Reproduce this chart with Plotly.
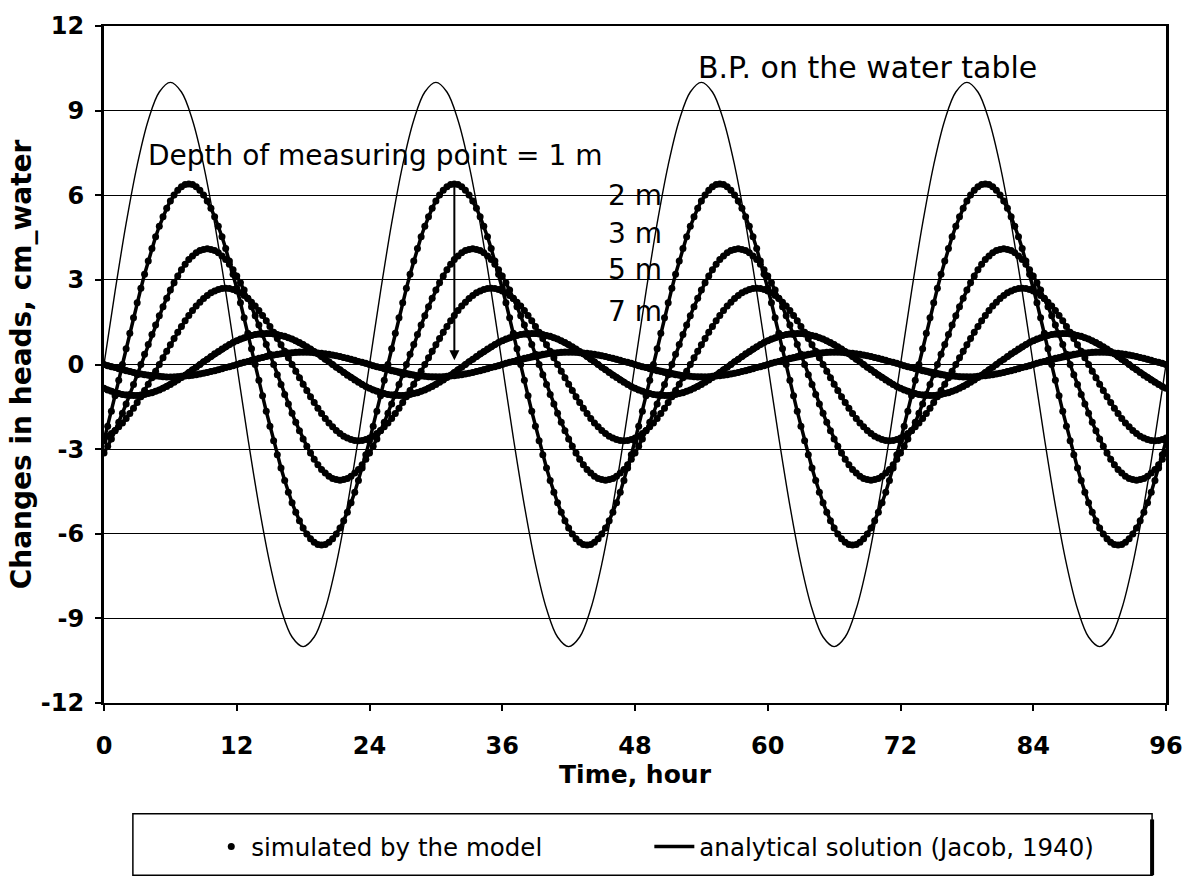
import plotly.graph_objects as go

# ---------------- data ----------------
HOUR_TICKS = [0, 12, 24, 36, 48, 60, 72, 84, 96]
HEAD_TICKS = [-12, -9, -6, -3, 0, 3, 6, 9, 12]
HEAD_TICK_LABELS = ["-12", "-9", "-6", "-3", "0", "3", "6", "9", "12"]

BP_STEP_H = 1.0          # barometric-pressure curve sampled every hour
SIM_STEP_H = 1.0 / 3.0   # model output every 20 minutes

# Barometric pressure change on the water table (cm water), hourly
BP_WATER_TABLE = [
    0, 2.59, 5, 7.07, 8.66, 9.66, 10, 9.66, 8.66, 7.07, 5, 2.59, 0, -2.59, -5, -7.07, -8.66, -9.66, -10, -9.66, -8.66, -7.07, -5, -2.59,
    0, 2.59, 5, 7.07, 8.66, 9.66, 10, 9.66, 8.66, 7.07, 5, 2.59, 0, -2.59, -5, -7.07, -8.66, -9.66, -10, -9.66, -8.66, -7.07, -5, -2.59,
    0, 2.59, 5, 7.07, 8.66, 9.66, 10, 9.66, 8.66, 7.07, 5, 2.59, 0, -2.59, -5, -7.07, -8.66, -9.66, -10, -9.66, -8.66, -7.07, -5, -2.59,
    0, 2.59, 5, 7.07, 8.66, 9.66, 10, 9.66, 8.66, 7.07, 5, 2.59, 0, -2.59, -5, -7.07, -8.66, -9.66, -10, -9.66, -8.66, -7.07, -5, -2.59,
    0,
]

# Head changes at measuring depth 1 m (every 20 min)
HEAD_1M = [
    -2.7, -2.19, -1.66, -1.11, -0.56, 0, 0.56, 1.11, 1.66, 2.19, 2.7, 3.2, 3.67, 4.11, 4.53, 4.9, 5.24, 5.54, 5.8, 6.01, 6.18, 6.3, 6.38, 6.4, 6.38, 6.3, 6.18, 6.01, 5.8, 5.54, 5.24, 4.9, 4.53, 4.11, 3.67, 3.2, 2.7, 2.19, 1.66, 1.11, 0.56, 0, -0.56, -1.11, -1.66, -2.19, -2.7, -3.2, -3.67, -4.11, -4.53, -4.9, -5.24, -5.54, -5.8, -6.01, -6.18, -6.3, -6.38, -6.4, -6.38, -6.3, -6.18, -6.01, -5.8, -5.54, -5.24, -4.9, -4.53, -4.11, -3.67, -3.2,
    -2.7, -2.19, -1.66, -1.11, -0.56, 0, 0.56, 1.11, 1.66, 2.19, 2.7, 3.2, 3.67, 4.11, 4.53, 4.9, 5.24, 5.54, 5.8, 6.01, 6.18, 6.3, 6.38, 6.4, 6.38, 6.3, 6.18, 6.01, 5.8, 5.54, 5.24, 4.9, 4.53, 4.11, 3.67, 3.2, 2.7, 2.19, 1.66, 1.11, 0.56, 0, -0.56, -1.11, -1.66, -2.19, -2.7, -3.2, -3.67, -4.11, -4.53, -4.9, -5.24, -5.54, -5.8, -6.01, -6.18, -6.3, -6.38, -6.4, -6.38, -6.3, -6.18, -6.01, -5.8, -5.54, -5.24, -4.9, -4.53, -4.11, -3.67, -3.2,
    -2.7, -2.19, -1.66, -1.11, -0.56, 0, 0.56, 1.11, 1.66, 2.19, 2.7, 3.2, 3.67, 4.11, 4.53, 4.9, 5.24, 5.54, 5.8, 6.01, 6.18, 6.3, 6.38, 6.4, 6.38, 6.3, 6.18, 6.01, 5.8, 5.54, 5.24, 4.9, 4.53, 4.11, 3.67, 3.2, 2.7, 2.19, 1.66, 1.11, 0.56, 0, -0.56, -1.11, -1.66, -2.19, -2.7, -3.2, -3.67, -4.11, -4.53, -4.9, -5.24, -5.54, -5.8, -6.01, -6.18, -6.3, -6.38, -6.4, -6.38, -6.3, -6.18, -6.01, -5.8, -5.54, -5.24, -4.9, -4.53, -4.11, -3.67, -3.2,
    -2.7, -2.19, -1.66, -1.11, -0.56, 0, 0.56, 1.11, 1.66, 2.19, 2.7, 3.2, 3.67, 4.11, 4.53, 4.9, 5.24, 5.54, 5.8, 6.01, 6.18, 6.3, 6.38, 6.4, 6.38, 6.3, 6.18, 6.01, 5.8, 5.54, 5.24, 4.9, 4.53, 4.11, 3.67, 3.2, 2.7, 2.19, 1.66, 1.11, 0.56, 0, -0.56, -1.11, -1.66, -2.19, -2.7, -3.2, -3.67, -4.11, -4.53, -4.9, -5.24, -5.54, -5.8, -6.01, -6.18, -6.3, -6.38, -6.4, -6.38, -6.3, -6.18, -6.01, -5.8, -5.54, -5.24, -4.9, -4.53, -4.11, -3.67, -3.2,
    -2.7,
]

# Head changes at measuring depth 2 m
HEAD_2M = [
    -3.14, -2.9, -2.64, -2.35, -2.05, -1.73, -1.4, -1.06, -0.71, -0.36, 0, 0.36, 0.71, 1.06, 1.4, 1.73, 2.05, 2.35, 2.64, 2.9, 3.14, 3.36, 3.55, 3.72, 3.85, 3.96, 4.04, 4.08, 4.1, 4.08, 4.04, 3.96, 3.85, 3.72, 3.55, 3.36, 3.14, 2.9, 2.64, 2.35, 2.05, 1.73, 1.4, 1.06, 0.71, 0.36, 0, -0.36, -0.71, -1.06, -1.4, -1.73, -2.05, -2.35, -2.64, -2.9, -3.14, -3.36, -3.55, -3.72, -3.85, -3.96, -4.04, -4.08, -4.1, -4.08, -4.04, -3.96, -3.85, -3.72, -3.55, -3.36,
    -3.14, -2.9, -2.64, -2.35, -2.05, -1.73, -1.4, -1.06, -0.71, -0.36, 0, 0.36, 0.71, 1.06, 1.4, 1.73, 2.05, 2.35, 2.64, 2.9, 3.14, 3.36, 3.55, 3.72, 3.85, 3.96, 4.04, 4.08, 4.1, 4.08, 4.04, 3.96, 3.85, 3.72, 3.55, 3.36, 3.14, 2.9, 2.64, 2.35, 2.05, 1.73, 1.4, 1.06, 0.71, 0.36, 0, -0.36, -0.71, -1.06, -1.4, -1.73, -2.05, -2.35, -2.64, -2.9, -3.14, -3.36, -3.55, -3.72, -3.85, -3.96, -4.04, -4.08, -4.1, -4.08, -4.04, -3.96, -3.85, -3.72, -3.55, -3.36,
    -3.14, -2.9, -2.64, -2.35, -2.05, -1.73, -1.4, -1.06, -0.71, -0.36, 0, 0.36, 0.71, 1.06, 1.4, 1.73, 2.05, 2.35, 2.64, 2.9, 3.14, 3.36, 3.55, 3.72, 3.85, 3.96, 4.04, 4.08, 4.1, 4.08, 4.04, 3.96, 3.85, 3.72, 3.55, 3.36, 3.14, 2.9, 2.64, 2.35, 2.05, 1.73, 1.4, 1.06, 0.71, 0.36, 0, -0.36, -0.71, -1.06, -1.4, -1.73, -2.05, -2.35, -2.64, -2.9, -3.14, -3.36, -3.55, -3.72, -3.85, -3.96, -4.04, -4.08, -4.1, -4.08, -4.04, -3.96, -3.85, -3.72, -3.55, -3.36,
    -3.14, -2.9, -2.64, -2.35, -2.05, -1.73, -1.4, -1.06, -0.71, -0.36, 0, 0.36, 0.71, 1.06, 1.4, 1.73, 2.05, 2.35, 2.64, 2.9, 3.14, 3.36, 3.55, 3.72, 3.85, 3.96, 4.04, 4.08, 4.1, 4.08, 4.04, 3.96, 3.85, 3.72, 3.55, 3.36, 3.14, 2.9, 2.64, 2.35, 2.05, 1.73, 1.4, 1.06, 0.71, 0.36, 0, -0.36, -0.71, -1.06, -1.4, -1.73, -2.05, -2.35, -2.64, -2.9, -3.14, -3.36, -3.55, -3.72, -3.85, -3.96, -4.04, -4.08, -4.1, -4.08, -4.04, -3.96, -3.85, -3.72, -3.55, -3.36,
    -3.14,
]

# Head changes at measuring depth 3 m
HEAD_3M = [
    -2.61, -2.54, -2.45, -2.34, -2.21, -2.07, -1.91, -1.74, -1.55, -1.35, -1.14, -0.92, -0.7, -0.47, -0.24, 0, 0.24, 0.47, 0.7, 0.92, 1.14, 1.35, 1.55, 1.74, 1.91, 2.07, 2.21, 2.34, 2.45, 2.54, 2.61, 2.66, 2.69, 2.7, 2.69, 2.66, 2.61, 2.54, 2.45, 2.34, 2.21, 2.07, 1.91, 1.74, 1.55, 1.35, 1.14, 0.92, 0.7, 0.47, 0.24, 0, -0.24, -0.47, -0.7, -0.92, -1.14, -1.35, -1.55, -1.74, -1.91, -2.07, -2.21, -2.34, -2.45, -2.54, -2.61, -2.66, -2.69, -2.7, -2.69, -2.66,
    -2.61, -2.54, -2.45, -2.34, -2.21, -2.07, -1.91, -1.74, -1.55, -1.35, -1.14, -0.92, -0.7, -0.47, -0.24, 0, 0.24, 0.47, 0.7, 0.92, 1.14, 1.35, 1.55, 1.74, 1.91, 2.07, 2.21, 2.34, 2.45, 2.54, 2.61, 2.66, 2.69, 2.7, 2.69, 2.66, 2.61, 2.54, 2.45, 2.34, 2.21, 2.07, 1.91, 1.74, 1.55, 1.35, 1.14, 0.92, 0.7, 0.47, 0.24, 0, -0.24, -0.47, -0.7, -0.92, -1.14, -1.35, -1.55, -1.74, -1.91, -2.07, -2.21, -2.34, -2.45, -2.54, -2.61, -2.66, -2.69, -2.7, -2.69, -2.66,
    -2.61, -2.54, -2.45, -2.34, -2.21, -2.07, -1.91, -1.74, -1.55, -1.35, -1.14, -0.92, -0.7, -0.47, -0.24, 0, 0.24, 0.47, 0.7, 0.92, 1.14, 1.35, 1.55, 1.74, 1.91, 2.07, 2.21, 2.34, 2.45, 2.54, 2.61, 2.66, 2.69, 2.7, 2.69, 2.66, 2.61, 2.54, 2.45, 2.34, 2.21, 2.07, 1.91, 1.74, 1.55, 1.35, 1.14, 0.92, 0.7, 0.47, 0.24, 0, -0.24, -0.47, -0.7, -0.92, -1.14, -1.35, -1.55, -1.74, -1.91, -2.07, -2.21, -2.34, -2.45, -2.54, -2.61, -2.66, -2.69, -2.7, -2.69, -2.66,
    -2.61, -2.54, -2.45, -2.34, -2.21, -2.07, -1.91, -1.74, -1.55, -1.35, -1.14, -0.92, -0.7, -0.47, -0.24, 0, 0.24, 0.47, 0.7, 0.92, 1.14, 1.35, 1.55, 1.74, 1.91, 2.07, 2.21, 2.34, 2.45, 2.54, 2.61, 2.66, 2.69, 2.7, 2.69, 2.66, 2.61, 2.54, 2.45, 2.34, 2.21, 2.07, 1.91, 1.74, 1.55, 1.35, 1.14, 0.92, 0.7, 0.47, 0.24, 0, -0.24, -0.47, -0.7, -0.92, -1.14, -1.35, -1.55, -1.74, -1.91, -2.07, -2.21, -2.34, -2.45, -2.54, -2.61, -2.66, -2.69, -2.7, -2.69, -2.66,
    -2.61,
]

# Head changes at measuring depth 5 m
HEAD_5M = [
    -0.84, -0.9, -0.95, -1.0, -1.03, -1.06, -1.08, -1.1, -1.1, -1.1, -1.08, -1.06, -1.03, -1.0, -0.95, -0.9, -0.84, -0.78, -0.71, -0.63, -0.55, -0.46, -0.38, -0.28, -0.19, -0.1, 0, 0.1, 0.19, 0.28, 0.38, 0.46, 0.55, 0.63, 0.71, 0.78, 0.84, 0.9, 0.95, 1.0, 1.03, 1.06, 1.08, 1.1, 1.1, 1.1, 1.08, 1.06, 1.03, 1.0, 0.95, 0.9, 0.84, 0.78, 0.71, 0.63, 0.55, 0.46, 0.38, 0.28, 0.19, 0.1, 0, -0.1, -0.19, -0.28, -0.38, -0.46, -0.55, -0.63, -0.71, -0.78,
    -0.84, -0.9, -0.95, -1.0, -1.03, -1.06, -1.08, -1.1, -1.1, -1.1, -1.08, -1.06, -1.03, -1.0, -0.95, -0.9, -0.84, -0.78, -0.71, -0.63, -0.55, -0.46, -0.38, -0.28, -0.19, -0.1, 0, 0.1, 0.19, 0.28, 0.38, 0.46, 0.55, 0.63, 0.71, 0.78, 0.84, 0.9, 0.95, 1.0, 1.03, 1.06, 1.08, 1.1, 1.1, 1.1, 1.08, 1.06, 1.03, 1.0, 0.95, 0.9, 0.84, 0.78, 0.71, 0.63, 0.55, 0.46, 0.38, 0.28, 0.19, 0.1, 0, -0.1, -0.19, -0.28, -0.38, -0.46, -0.55, -0.63, -0.71, -0.78,
    -0.84, -0.9, -0.95, -1.0, -1.03, -1.06, -1.08, -1.1, -1.1, -1.1, -1.08, -1.06, -1.03, -1.0, -0.95, -0.9, -0.84, -0.78, -0.71, -0.63, -0.55, -0.46, -0.38, -0.28, -0.19, -0.1, 0, 0.1, 0.19, 0.28, 0.38, 0.46, 0.55, 0.63, 0.71, 0.78, 0.84, 0.9, 0.95, 1.0, 1.03, 1.06, 1.08, 1.1, 1.1, 1.1, 1.08, 1.06, 1.03, 1.0, 0.95, 0.9, 0.84, 0.78, 0.71, 0.63, 0.55, 0.46, 0.38, 0.28, 0.19, 0.1, 0, -0.1, -0.19, -0.28, -0.38, -0.46, -0.55, -0.63, -0.71, -0.78,
    -0.84, -0.9, -0.95, -1.0, -1.03, -1.06, -1.08, -1.1, -1.1, -1.1, -1.08, -1.06, -1.03, -1.0, -0.95, -0.9, -0.84, -0.78, -0.71, -0.63, -0.55, -0.46, -0.38, -0.28, -0.19, -0.1, 0, 0.1, 0.19, 0.28, 0.38, 0.46, 0.55, 0.63, 0.71, 0.78, 0.84, 0.9, 0.95, 1.0, 1.03, 1.06, 1.08, 1.1, 1.1, 1.1, 1.08, 1.06, 1.03, 1.0, 0.95, 0.9, 0.84, 0.78, 0.71, 0.63, 0.55, 0.46, 0.38, 0.28, 0.19, 0.1, 0, -0.1, -0.19, -0.28, -0.38, -0.46, -0.55, -0.63, -0.71, -0.78,
    -0.84,
]

# Head changes at measuring depth 7 m
HEAD_7M = [
    0, -0.04, -0.08, -0.11, -0.15, -0.19, -0.22, -0.25, -0.28, -0.31, -0.34, -0.36, -0.38, -0.4, -0.41, -0.42, -0.43, -0.44, -0.44, -0.44, -0.43, -0.42, -0.41, -0.4, -0.38, -0.36, -0.34, -0.31, -0.28, -0.25, -0.22, -0.19, -0.15, -0.11, -0.08, -0.04, 0, 0.04, 0.08, 0.11, 0.15, 0.19, 0.22, 0.25, 0.28, 0.31, 0.34, 0.36, 0.38, 0.4, 0.41, 0.42, 0.43, 0.44, 0.44, 0.44, 0.43, 0.42, 0.41, 0.4, 0.38, 0.36, 0.34, 0.31, 0.28, 0.25, 0.22, 0.19, 0.15, 0.11, 0.08, 0.04,
    0, -0.04, -0.08, -0.11, -0.15, -0.19, -0.22, -0.25, -0.28, -0.31, -0.34, -0.36, -0.38, -0.4, -0.41, -0.42, -0.43, -0.44, -0.44, -0.44, -0.43, -0.42, -0.41, -0.4, -0.38, -0.36, -0.34, -0.31, -0.28, -0.25, -0.22, -0.19, -0.15, -0.11, -0.08, -0.04, 0, 0.04, 0.08, 0.11, 0.15, 0.19, 0.22, 0.25, 0.28, 0.31, 0.34, 0.36, 0.38, 0.4, 0.41, 0.42, 0.43, 0.44, 0.44, 0.44, 0.43, 0.42, 0.41, 0.4, 0.38, 0.36, 0.34, 0.31, 0.28, 0.25, 0.22, 0.19, 0.15, 0.11, 0.08, 0.04,
    0, -0.04, -0.08, -0.11, -0.15, -0.19, -0.22, -0.25, -0.28, -0.31, -0.34, -0.36, -0.38, -0.4, -0.41, -0.42, -0.43, -0.44, -0.44, -0.44, -0.43, -0.42, -0.41, -0.4, -0.38, -0.36, -0.34, -0.31, -0.28, -0.25, -0.22, -0.19, -0.15, -0.11, -0.08, -0.04, 0, 0.04, 0.08, 0.11, 0.15, 0.19, 0.22, 0.25, 0.28, 0.31, 0.34, 0.36, 0.38, 0.4, 0.41, 0.42, 0.43, 0.44, 0.44, 0.44, 0.43, 0.42, 0.41, 0.4, 0.38, 0.36, 0.34, 0.31, 0.28, 0.25, 0.22, 0.19, 0.15, 0.11, 0.08, 0.04,
    0, -0.04, -0.08, -0.11, -0.15, -0.19, -0.22, -0.25, -0.28, -0.31, -0.34, -0.36, -0.38, -0.4, -0.41, -0.42, -0.43, -0.44, -0.44, -0.44, -0.43, -0.42, -0.41, -0.4, -0.38, -0.36, -0.34, -0.31, -0.28, -0.25, -0.22, -0.19, -0.15, -0.11, -0.08, -0.04, 0, 0.04, 0.08, 0.11, 0.15, 0.19, 0.22, 0.25, 0.28, 0.31, 0.34, 0.36, 0.38, 0.4, 0.41, 0.42, 0.43, 0.44, 0.44, 0.44, 0.43, 0.42, 0.41, 0.4, 0.38, 0.36, 0.34, 0.31, 0.28, 0.25, 0.22, 0.19, 0.15, 0.11, 0.08, 0.04,
    0,
]

DEPTH_SERIES = [HEAD_1M, HEAD_2M, HEAD_3M, HEAD_5M, HEAD_7M]
DEPTH_NAMES = ["1 m", "2 m", "3 m", "5 m", "7 m"]

for s in DEPTH_SERIES:
    assert len(s) == 289, len(s)
assert len(BP_WATER_TABLE) == 97

# ---------------- figure ----------------
FONT = "DejaVu Sans"
fig = go.Figure()

# thin barometric-pressure curve
fig.add_trace(go.Scatter(
    x0=0, dx=BP_STEP_H, y=BP_WATER_TABLE, mode="lines",
    line=dict(color="black", width=1.4, shape="spline"),
    showlegend=False, hoverinfo="skip"))

line_widths = [3.5, 3.5, 3.5, 6, 6]
for i, (series, name) in enumerate(zip(DEPTH_SERIES, DEPTH_NAMES)):
    # simulated (model) points
    fig.add_trace(go.Scatter(
        x0=0, dx=SIM_STEP_H, y=series, mode="markers",
        marker=dict(color="black", size=7),
        name="simulated by the model", legend="legend",
        showlegend=(i == 0)))
    # analytical solution line
    fig.add_trace(go.Scatter(
        x0=0, dx=SIM_STEP_H, y=series, mode="lines",
        line=dict(color="black", width=line_widths[i]),
        name="analytical solution (Jacob, 1940)", legend="legend2",
        showlegend=(i == 0)))

axis_common = dict(
    showline=True, linecolor="black", mirror=True,
    ticks="outside", ticklen=6, tickwidth=1.5, tickcolor="black",
    zeroline=False,
    tickfont=dict(family=FONT, size=24, color="black", weight="bold"),
)

fig.update_layout(
    width=1195, height=881,
    margin=dict(l=104, r=26, t=22, b=175),
    paper_bgcolor="white", plot_bgcolor="white",
    font=dict(family=FONT, color="black"),
    xaxis=dict(
        range=[0, 96], tickvals=HOUR_TICKS, showgrid=False, linewidth=2,
        ticklabelstandoff=14,
        title=dict(text="Time, hour", standoff=0,
                   font=dict(family=FONT, size=25, color="black", weight="bold")),
        **axis_common),
    yaxis=dict(
        range=[-12, 12], tickvals=HEAD_TICKS, ticktext=HEAD_TICK_LABELS,
        showgrid=True, gridcolor="black", gridwidth=1.2, linewidth=3,
        ticklabelstandoff=6,
        title=dict(text="Changes in heads, cm_water", standoff=2,
                   font=dict(family=FONT, size=28, color="black", weight="bold")),
        **axis_common),
    legend=dict(x=0.101, xanchor="left", y=-0.212, yanchor="middle",
                orientation="h", bgcolor="rgba(0,0,0,0)", borderwidth=0,
                font=dict(family=FONT, size=24.5, color="black")),
    legend2=dict(x=0.5135, xanchor="left", y=-0.212, yanchor="middle",
                 orientation="h", bgcolor="rgba(0,0,0,0)", borderwidth=0,
                 itemwidth=40,
                 font=dict(family=FONT, size=24.5, color="black")),
    showlegend=True,
)

# legend frame (with heavier right edge like the original)
fig.add_shape(type="rect", xref="paper", yref="paper",
              x0=0.0272, x1=0.9869, y0=-0.2544, y1=-0.1637,
              line=dict(color="black", width=1.5), fillcolor="rgba(0,0,0,0)")
fig.add_shape(type="line", xref="paper", yref="paper",
              x0=0.9869, x1=0.9869, y0=-0.2544, y1=-0.172,
              line=dict(color="black", width=4))

# text labels
label_font = dict(family=FONT, size=28, color="black")
fig.add_annotation(x=53.5, y=10.53, xref="x", yref="y", text="B.P. on the water table",
                   showarrow=False, xanchor="left", yanchor="middle",
                   font=dict(family=FONT, size=30, color="black"))
fig.add_annotation(x=3.8, y=7.4, xref="x", yref="y", text="Depth of measuring point = " + DEPTH_NAMES[0],
                   showarrow=False, xanchor="left", yanchor="middle", font=label_font)
label_y = [6.0, 4.63, 3.37, 1.89]
for name, yv in zip(DEPTH_NAMES[1:], label_y):
    fig.add_annotation(x=45.4, y=yv, xref="x", yref="y", text=name,
                       showarrow=False, xanchor="left", yanchor="middle", font=label_font)

# arrow from the 1 m peak downward (increasing depth)
fig.add_annotation(x=31.67, y=0.15, ax=31.67, ay=6.4, xref="x", yref="y",
                   axref="x", ayref="y", text="", showarrow=True,
                   arrowhead=2, arrowsize=1, arrowwidth=2, arrowcolor="black")

fig.write_html("out.html")
